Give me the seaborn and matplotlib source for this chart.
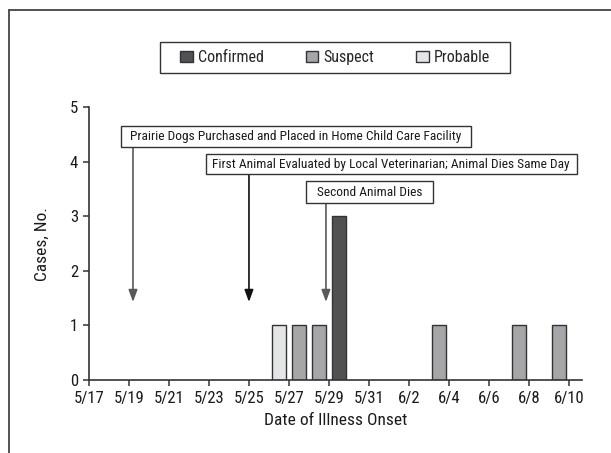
import matplotlib
matplotlib.use("Agg")
import numpy as np
import pandas as pd
import matplotlib.pyplot as plt
from matplotlib.patches import Rectangle, Patch
from matplotlib.lines import Line2D
import seaborn as sns

# illness onset, as days after 5/17
onset_day = [9, 10, 11, 12, 17, 21, 23]
status = ["Probable", "Suspect", "Suspect", "Confirmed", "Suspect", "Suspect", "Suspect"]
cases = [1, 1, 1, 3, 1, 1, 1]

status_order = ["Confirmed", "Suspect", "Probable"]
status_colors = {"Confirmed": "#505055", "Suspect": "#a6a6a9", "Probable": "#e4e5e6"}

tick_days = [0, 2, 4, 6, 8, 10, 12, 14, 16, 18, 20, 22, 24]
tick_labels = ["5/17", "5/19", "5/21", "5/23", "5/25", "5/27", "5/29",
               "5/31", "6/2", "6/4", "6/6", "6/8", "6/10"]

events = ["Prairie Dogs Purchased and Placed in Home Child Care Facility",
          "First Animal Evaluated by Local Veterinarian; Animal Dies Same Day",
          "Second Animal Dies"]
event_day = [2.2, 8.0, 11.85]
# label boxes (x0, x1, y0, y1) in data units
event_box = [(1.6, 19.08, 4.27, 4.66),
             (5.83, 24.38, 3.77, 4.15),
             (10.83, 17.21, 3.25, 3.64)]
event_color = ["#5a5a5a", "#111111", "#5a5a5a"]

sns.set_style("ticks")
plt.rcParams["font.family"] = ["Roboto Condensed", "DejaVu Sans"]

W, H = 611, 453
fig = plt.figure(figsize=(W / 100, H / 100), dpi=100)
ax = fig.add_axes([89 / W, 1 - 380 / H, (582.3 - 89) / W, (380 - 107.3) / H])

df = pd.DataFrame({"day": np.array(onset_day) + 0.5, "cases": cases, "status": status})
sns.barplot(data=df, x="day", y="cases", hue="status", hue_order=status_order,
            palette=status_colors, native_scale=True, dodge=False, width=0.68,
            edgecolor="#333333", linewidth=1.0, legend=False, ax=ax, zorder=2)

ax.set_xlim(0, 24.67)
ax.set_ylim(0, 5)
ax.set_xticks(tick_days)
ax.set_xticklabels(tick_labels)
ax.set_yticks(range(6))
ax.tick_params(axis="both", labelsize=12, length=4, width=1.1, color="#333333",
               labelcolor="#1a1a1a", pad=4)
for side in ["top", "right"]:
    ax.spines[side].set_visible(False)
for side in ["left", "bottom"]:
    ax.spines[side].set_linewidth(1.2)
    ax.spines[side].set_color("#333333")
ax.set_xlabel("Date of Illness Onset", fontsize=12.5, color="#1a1a1a", labelpad=5)
ax.set_ylabel("Cases, No.", fontsize=12.5, color="#1a1a1a", labelpad=14)

for label, day, (x0, x1, y0, y1), col in zip(events, event_day, event_box, event_color):
    ax.add_patch(Rectangle((x0, y0), x1 - x0, y1 - y0, facecolor="white",
                           edgecolor="#333333", lw=1.0, clip_on=False, zorder=4))
    ax.text((x0 + x1) / 2, (y0 + y1) / 2, label, ha="center", va="center",
            fontsize=9.6, color="#1a1a1a", zorder=5)
    ax.annotate("", xy=(day, 1.43), xytext=(day, y0),
                arrowprops=dict(arrowstyle="-|>,head_length=0.6,head_width=0.22",
                                color=col, lw=1.2, mutation_scale=12,
                                shrinkA=0, shrinkB=0), zorder=3)

# legend with a square frame
handles = [Patch(facecolor=status_colors[s], edgecolor="#333333", lw=1.0) for s in status_order]
fig.legend(handles, status_order, loc="center", ncol=3, frameon=False,
           bbox_to_anchor=(335.3 / W, 1 - 57.5 / H), fontsize=11.5,
           handlelength=0.78, handleheight=0.75, handletextpad=0.35,
           columnspacing=2.6)
fig.add_artist(Rectangle((160.3 / W, 1 - 73.3 / H), 350 / W, 31.6 / H,
                         transform=fig.transFigure, fill=False,
                         edgecolor="#333333", lw=1.0))

# page frame lines
fig.add_artist(Line2D([9 / W, 1], [1 - 10 / H, 1 - 10 / H], color="#444444", lw=1.3))
fig.add_artist(Line2D([9 / W, 9 / W], [0, 1 - 10 / H], color="#444444", lw=1.3))

fig.savefig("out.png", dpi=100)
